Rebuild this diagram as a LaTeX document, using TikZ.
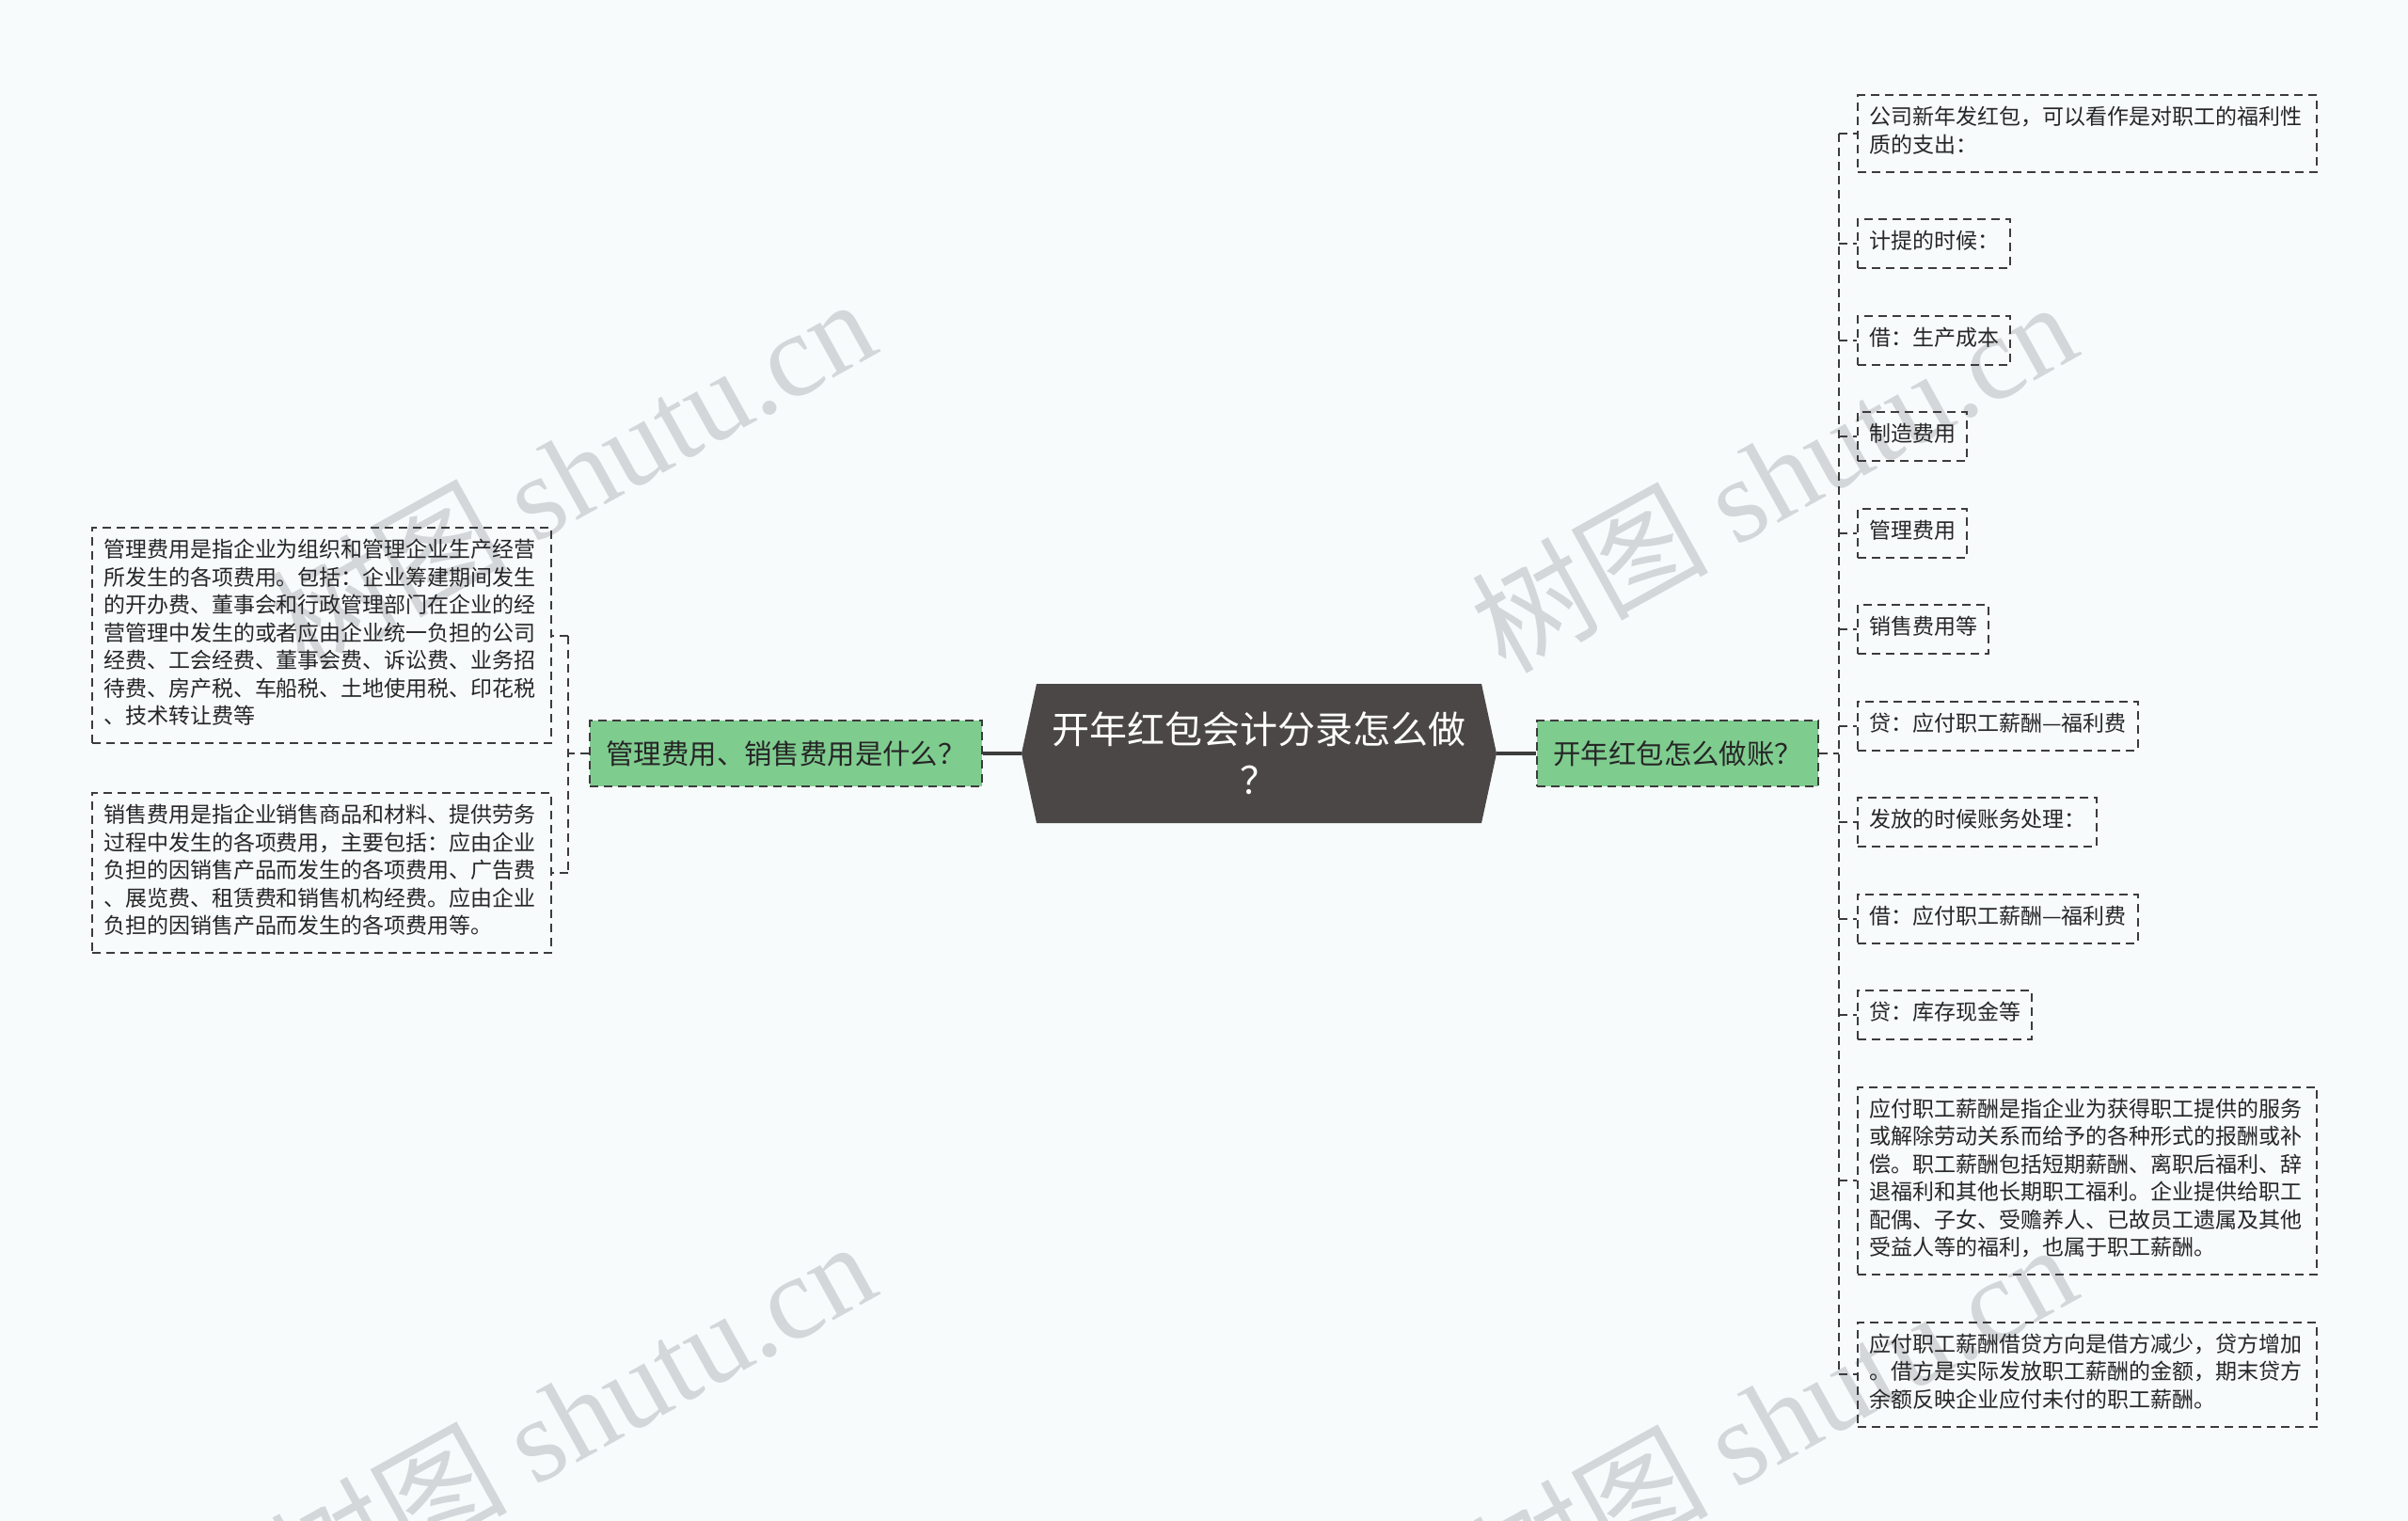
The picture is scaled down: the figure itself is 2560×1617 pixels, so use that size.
\documentclass[tikz,border=0pt]{standalone}
\usepackage{fontspec}
\setmainfont{Noto Sans CJK SC}
\newfontfamily\wmserif{Liberation Serif}
\usetikzlibrary{positioning}

\definecolor{pagebg}{HTML}{F7FBFC}
\definecolor{rootfill}{HTML}{4B4747}
\definecolor{branchfill}{HTML}{7FCC8F}
\definecolor{edgecol}{HTML}{3C3C3C}
\definecolor{wmcol}{HTML}{D3D7D9}

\tikzset{
  link/.style={edgecol, line width=1pt, dash pattern=on 4.5pt off 3pt},
  rootlink/.style={edgecol, line width=1.6pt},
  branch/.style={draw, link, fill=branchfill, text=black!85,
    font=\fontsize{14.7}{18}\selectfont, inner xsep=8.5pt, inner ysep=0pt,
    minimum height=35pt},
  leaf/.style={draw, link, text=black!85, font=\fontsize{11.5}{14.75}\selectfont,
    inner xsep=6pt, inner ysep=5.625pt,
    execute at begin node=\strut, execute at end node=\strut},
  note/.style={leaf, text width=232pt, align=left},
  watermark/.style={wmcol, font=\fontsize{63}{63}\selectfont, rotate=29, anchor=base east}
}

\begin{document}
\begin{tikzpicture}[x=0.5pt,y=-0.5pt]

% Page
\fill[pagebg] (0,0) rectangle (2560,1617);
\useasboundingbox (0,0) rectangle (2560,1617);

% Watermarks
\node[watermark] (wm1) at (945,370) {树图 {\wmserif shutu.cn}};
\node[watermark] (wm2) at (2222,373) {树图 {\wmserif shutu.cn}};
\node[watermark] (wm3) at (945,1372) {树图 {\wmserif shutu.cn}};
\node[watermark] (wm4) at (2222,1375) {树图 {\wmserif shutu.cn}};

% Root hexagon
\fill[rootfill] (1086,801) -- (1102,727) -- (1575,727) -- (1591,801)
  -- (1575,875) -- (1102,875) -- cycle;
\node[text=white, font=\fontsize{20}{27}\selectfont, align=center,
  minimum width=252.5pt, minimum height=74pt, inner sep=0pt]
  (root) at (1338.5,801) {开年红包会计分录怎么做\\？};

% Main branches
\node[branch, left=20.5pt of root] (lbr) {管理费用、销售费用是什么？};
\node[branch, right=21pt of root] (rbr) {开年红包怎么做账？};

% Left notes
\node[note, anchor=north west] (l1) at (97,560)
  {管理费用是指企业为组织和管理企业生产经营\\
   所发生的各项费用。包括：企业筹建期间发生\\
   的开办费、董事会和行政管理部门在企业的经\\
   营管理中发生的或者应由企业统一负担的公司\\
   经费、工会经费、董事会费、诉讼费、业务招\\
   待费、房产税、车船税、土地使用税、印花税\\
   、技术转让费等};
\node[note, below right=25.5pt and 0pt of l1.south west] (l2)
  {销售费用是指企业销售商品和材料、提供劳务\\
   过程中发生的各项费用，主要包括：应由企业\\
   负担的因销售产品而发生的各项费用、广告费\\
   、展览费、租赁费和销售机构经费。应由企业\\
   负担的因销售产品而发生的各项费用等。};

% Right notes
\node[note, anchor=north west] (r1) at (1974,100)
  {公司新年发红包，可以看作是对职工的福利性\\质的支出：};
\node[leaf, below right=24.25pt and 0pt of r1.south west] (r2) {计提的时候：};
\node[leaf, below right=24.25pt and 0pt of r2.south west] (r3) {借：生产成本};
\node[leaf, below right=24.25pt and 0pt of r3.south west] (r4) {制造费用};
\node[leaf, below right=24.25pt and 0pt of r4.south west] (r5) {管理费用};
\node[leaf, below right=24.25pt and 0pt of r5.south west] (r6) {销售费用等};
\node[leaf, below right=24.25pt and 0pt of r6.south west] (r7) {贷：应付职工薪酬—福利费};
\node[leaf, below right=24.25pt and 0pt of r7.south west] (r8) {发放的时候账务处理：};
\node[leaf, below right=24.25pt and 0pt of r8.south west] (r9) {借：应付职工薪酬—福利费};
\node[leaf, below right=24.25pt and 0pt of r9.south west] (r10) {贷：库存现金等};
\node[note, below right=24.25pt and 0pt of r10.south west] (r11)
  {应付职工薪酬是指企业为获得职工提供的服务\\
   或解除劳动关系而给予的各种形式的报酬或补\\
   偿。职工薪酬包括短期薪酬、离职后福利、辞\\
   退福利和其他长期职工福利。企业提供给职工\\
   配偶、子女、受赡养人、已故员工遗属及其他\\
   受益人等的福利，也属于职工薪酬。};
\node[note, below right=24.25pt and 0pt of r11.south west] (r12)
  {应付职工薪酬借贷方向是借方减少，贷方增加\\
   。借方是实际发放职工薪酬的金额，期末贷方\\
   余额反映企业应付未付的职工薪酬。};

% Root to branches
\draw[rootlink] (root.west) -- (lbr.east);
\draw[rootlink] (root.east) -- (rbr.west);

% Left trunk
\draw[link] (lbr.west) -- ++(-11pt,0) coordinate (lt);
\draw[link] (lt |- l1.east) -- (lt |- l2.east);
\foreach \n in {l1,l2}
  \draw[link] (lt |- \n.east) -- (\n.east);

% Right trunk
\draw[link] (rbr.east) -- ++(10.5pt,0) coordinate (rt);
\draw[link] (rt |- r1.west) -- (rt |- r12.west);
\foreach \n in {r1,r2,r3,r4,r5,r6,r7,r8,r9,r10,r11,r12}
  \draw[link] (rt |- \n.west) -- (\n.west);

\end{tikzpicture}
\end{document}
